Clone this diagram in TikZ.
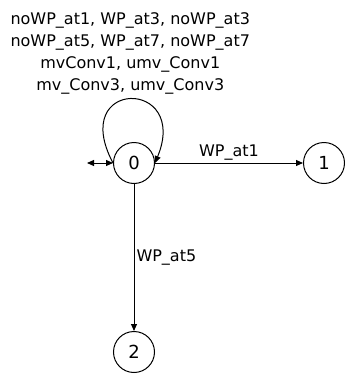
\documentclass[tikz,border=0pt]{standalone}
\usepackage{fontspec}
\setmainfont{DejaVu Sans}
\usetikzlibrary{arrows.meta, positioning}
\tikzset{
  every picture/.style={line width=1pt},
  state/.style={draw, circle, minimum size=41pt, inner sep=0pt, font=\fontsize{18}{18}\selectfont},
  tip/.style={Triangle[length=7pt, width=6pt]},
  arrow/.style={-{Triangle[length=7pt, width=6pt]}},
  lbl/.style={font=\fontsize{16}{19}\selectfont, inner sep=2pt},
  looplbl/.style={font=\fontsize{16}{22.3}\selectfont, align=center, inner sep=4pt},
}
\begin{document}
\begin{tikzpicture}[x=1pt, y=1pt]
  \useasboundingbox (0,0) rectangle (345,-378);
  \node[state] (s0) at (134,-163) {0};
  \node[state] (s1) at (324,-163) {1};
  \node[state] (s2) at (134,-352) {2};
  \coordinate (init) at (87,-163);
  % start
  \draw[{Triangle[length=7pt, width=6pt]}-{Triangle[length=7pt, width=6pt]}] (init) -- (s0);
  % self loop
  \draw[arrow] (s0.west) .. controls +(-45,85) and +(35,85) .. node[above, looplbl] {noWP\_at1, WP\_at3, noWP\_at3\\noWP\_at5, WP\_at7, noWP\_at7\\mvConv1, umv\_Conv1\\mv\_Conv3, umv\_Conv3} (s0.east);
  % transitions
  \draw[arrow] (s0) -- node[above, lbl] {WP\_at1} (s1);
  \draw[arrow] (s0) -- node[right, lbl] {WP\_at5} (s2);
\end{tikzpicture}
\end{document}
